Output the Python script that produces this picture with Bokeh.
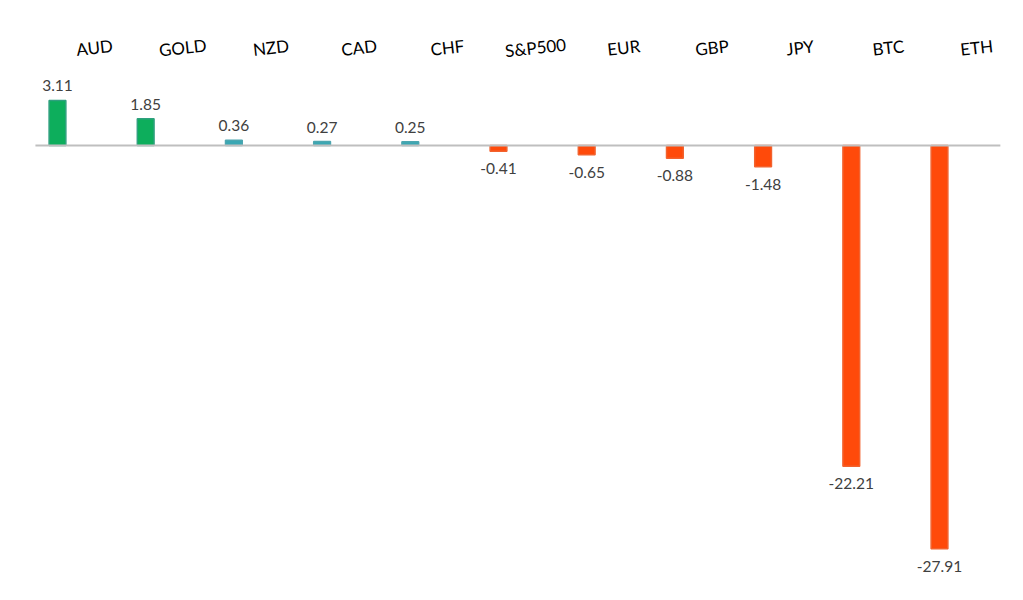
from bokeh.core.properties import value
from bokeh.embed import file_html
from bokeh.models import ColumnDataSource, Range1d
from bokeh.plotting import figure
from bokeh.resources import INLINE

# chart data
assets = ["AUD", "GOLD", "NZD", "CAD", "CHF", "S&P500", "EUR", "GBP", "JPY", "BTC", "ETH"]
changes = [3.11, 1.85, 0.36, 0.27, 0.25, -0.41, -0.65, -0.88, -1.48, -22.21, -27.91]
bar_colors = ["#0DAE5C", "#0DAE5C", "#3AA7B3", "#3AA7B3", "#3AA7B3",
              "#FF4A0A", "#FF4A0A", "#FF4A0A", "#FF4A0A", "#FF4A0A", "#FF4A0A"]
edge_colors = ["#2FA07E", "#2FA07E", "#4CA6B0", "#4CA6B0", "#4CA6B0",
               "#F2622E", "#F2622E", "#F2622E", "#F2622E", "#F2622E", "#F2622E"]

xs = list(range(len(assets)))
labels = ["%.2f" % v for v in changes]

y_top = 10.03
y_bottom = -30.39

p = figure(width=1007, height=584, output_backend="svg", toolbar_location=None,
           x_range=Range1d(-0.646, 10.771), y_range=Range1d(y_bottom, y_top),
           min_border=0, outline_line_color=None)
p.axis.visible = False
p.grid.visible = False

src = ColumnDataSource(dict(x=xs, v=changes, c=bar_colors, e=edge_colors, lab=labels, name=assets))

p.vbar(x="x", top="v", bottom=0, width=0.19, fill_color="c", line_color="e",
       line_width=1.5, source=src)

# zero line
p.line(x=[-0.25, len(assets) - 0.31], y=[0, 0], line_color="#BFBFBF", line_width=2)

pos = ColumnDataSource(dict(x=[x for x, v in zip(xs, changes) if v >= 0],
                            y=[v for v in changes if v >= 0],
                            t=[l for l, v in zip(labels, changes) if v >= 0]))
neg = ColumnDataSource(dict(x=[x for x, v in zip(xs, changes) if v < 0],
                            y=[v for v in changes if v < 0],
                            t=[l for l, v in zip(labels, changes) if v < 0]))

p.text(x="x", y="y", text="t", source=pos, text_align="center", text_baseline="bottom",
       y_offset=-9, text_font=value("Lato"), text_font_size="15.5px", text_color="#404040")
p.text(x="x", y="y", text="t", source=neg, text_align="center", text_baseline="top",
       y_offset=12, text_font=value("Lato"), text_font_size="15.5px", text_color="#404040")

# category labels, slightly tilted and shifted right like the source
p.text(x="x", y=y_top - 3.25, text="name", source=src, text_align="center",
       text_baseline="middle", x_offset=37, angle=0.11, text_font=value("Lato"),
       text_font_size="17px", text_color="#000000")

open("out.html", "w").write(file_html(p, INLINE))
